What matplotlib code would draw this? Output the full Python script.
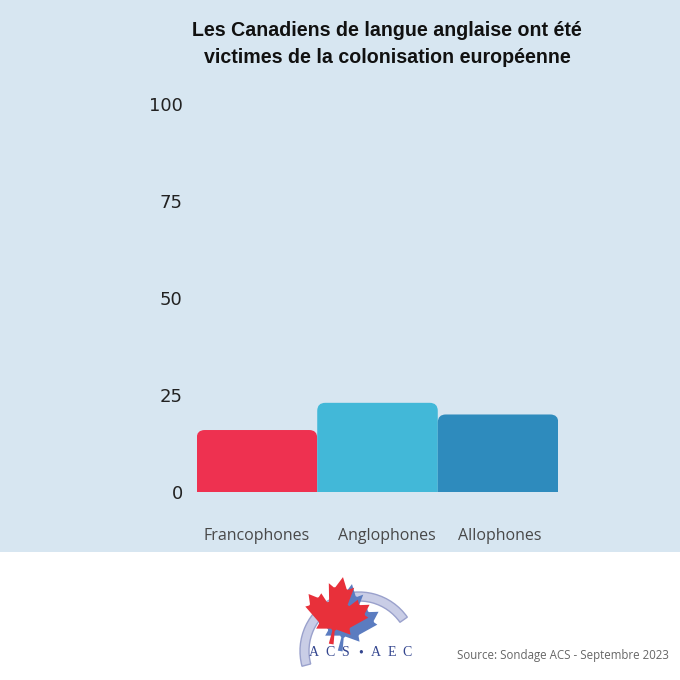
import numpy as np
import matplotlib.pyplot as plt
from matplotlib.patches import Rectangle, FancyBboxPatch, Polygon, Wedge
from matplotlib.transforms import ScaledTranslation

# data
categories = ["Francophones", "Anglophones", "Allophones"]
values = [16, 23, 20]
colors = ["#ee3150", "#42b8d8", "#2e8bbd"]
yticks = [0, 25, 50, 75, 100]
title = "Les Canadiens de langue anglaise ont été\nvictimes de la colonisation européenne"
source = "Source: Sondage ACS - Septembre 2023"

W = H = 680
fig = plt.figure(figsize=(6.8, 6.8), dpi=100)
fig.patch.set_facecolor("white")

# light blue panel behind the chart
fig.patches.append(Rectangle((0, (H - 552) / H), 1, 552 / H, transform=fig.transFigure,
                             facecolor="#d7e6f1", edgecolor="none", zorder=-5))

# main chart axes (pixel positions)
left, right, top, bottom = 196.7, 558.3, 103.6, 492.2
ax = fig.add_axes([left / W, (H - bottom) / H, (right - left) / W, (bottom - top) / H], zorder=2)
ax.set_facecolor("none")

bars = ax.bar(range(len(categories)), values, width=1.0, color=colors)
ax.set_xlim(-0.5, len(categories) - 0.5)
ax.set_ylim(0, 100)

# rounded top corners
px_x = (right - left) / len(categories)
px_y = (bottom - top) / 100
r_px = 8
rx = r_px / px_x
ry = r_px / px_y
for b, c in zip(bars, colors):
    b.set_visible(False)
    p = FancyBboxPatch((b.get_x(), -ry), b.get_width(), b.get_height() + ry,
                       boxstyle=f"round,pad=0,rounding_size={rx}",
                       mutation_aspect=ry / rx, facecolor=c, edgecolor="none")
    ax.add_patch(p)

for s in ax.spines.values():
    s.set_visible(False)
ax.set_yticks(yticks)
ax.set_yticklabels([str(t) for t in yticks], fontfamily="DejaVu Sans", fontsize=13, color="#222222")
ax.tick_params(axis="y", length=0, pad=10)
ax.set_xticks(range(len(categories)))
ax.set_xticklabels(categories, fontfamily="Open Sans", fontsize=11.5, color="#484848")
ax.tick_params(axis="x", length=0, pad=26)
# labels in the reference sit a little right of the bar centres
for lab, dx in zip(ax.get_xticklabels(), [0, 9, 2]):
    lab.set_transform(lab.get_transform() + ScaledTranslation(dx / 100, 0, fig.dpi_scale_trans))

fig.text(387 / W, 1 - 44 / H, title, ha="center", va="center", fontfamily="Liberation Sans",
         fontweight="bold", fontsize=14.1, color="#111111", linespacing=1.55)
fig.text(669 / W, 1 - 656 / H, source, ha="right", va="center", fontfamily="Open Sans",
         fontsize=8.3, color="#666666")

# logo drawn in pixel coordinates
lg = fig.add_axes([0, 0, 1, 1], zorder=5)
lg.set_xlim(0, W)
lg.set_ylim(H, 0)
lg.axis("off")

lg.add_patch(Wedge((359, 651), 59, 165, 325, width=9,
                   facecolor="#c9cde6", edgecolor="#9aa1cc", linewidth=1))

# maple leaf outline (flag leaf, y downwards)
leaf = np.array([
    (-140, 1950), (-70, 1167), (-156, 1069), (-1015, 1220), (-899, 900), (-919, 827),
    (-1860, 65), (-1648, -34), (-1614, -113), (-1800, -685), (-1258, -570), (-1185, -608),
    (-1080, -855), (-657, -401), (-546, -458), (-750, -1510), (-423, -1321), (-332, -1348),
    (0, -2000), (332, -1348), (423, -1321), (750, -1510), (546, -458), (657, -401),
    (1080, -855), (1185, -608), (1258, -570), (1800, -685), (1614, -113), (1648, -34),
    (1860, 65), (919, 827), (899, 900), (1015, 1220), (156, 1069), (70, 1167), (140, 1950)],
    dtype=float)
th = np.radians(10)
s = 0.0172
lx = leaf[:, 0] * np.cos(th) - leaf[:, 1] * np.sin(th)
ly = leaf[:, 0] * np.sin(th) + leaf[:, 1] * np.cos(th)
cx, cy = 337, 611
lg.add_patch(Polygon(np.column_stack([cx + 9 + lx * s, cy + 7 + ly * s]),
                     closed=True, facecolor="#5b7cc0", edgecolor="none"))
lg.add_patch(Polygon(np.column_stack([cx + lx * s, cy + ly * s]),
                     closed=True, facecolor="#e8303a", edgecolor="none"))

for i, ch in enumerate("ACS•AEC"):
    lg.text(314 + 15.5 * i, 653, ch, ha="center", va="center", fontfamily="Liberation Serif",
            fontsize=10, color="#34468f")

fig.savefig("out.png", dpi=100, facecolor="white")
